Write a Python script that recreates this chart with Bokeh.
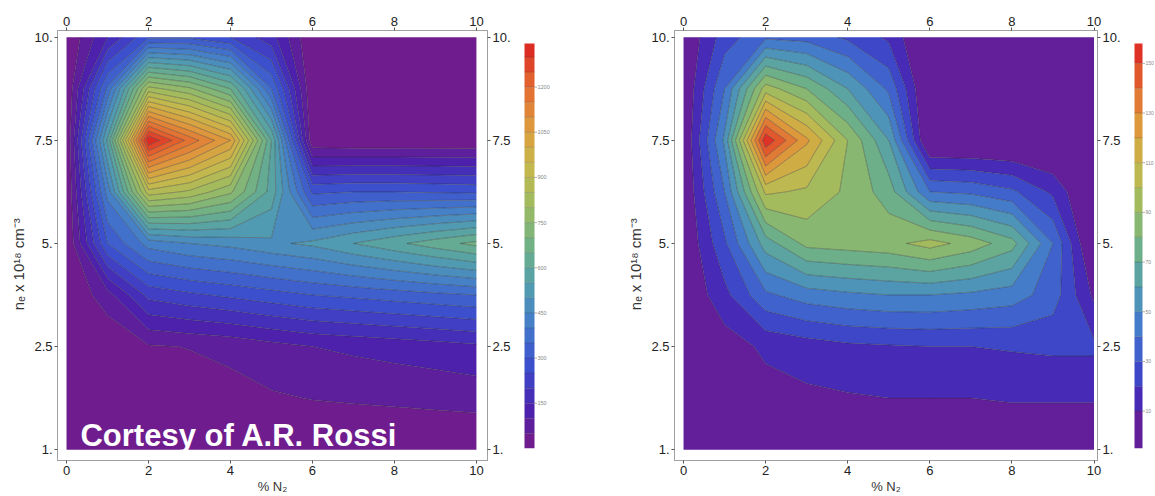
import numpy as np
from bokeh.plotting import figure
from bokeh.layouts import row
from bokeh.models import Range1d, LinearAxis, FixedTicker, Label
from bokeh.core.properties import value
from bokeh.embed import file_html
from bokeh.resources import INLINE

# ---------------- data ----------------
n2_percent = [0, 1, 2, 3, 4, 5, 6, 7, 8, 9, 10]
# vertical axis: evenly spaced rows labelled by electron density
ne_tick_pos = [0, 1, 2, 3, 4]
ne_tick_labels = ["1.", "2.5", "5.", "7.5", "10."]
grid_rows = [0, 0.5, 1, 1.5, 2, 2.5, 3, 3.5, 4]
n2_ticks = [0, 2, 4, 6, 8, 10]

# left map: one list per grid row (bottom -> top)
left_y0 = [0, 0, 0, 0, 0, 0, 0, 0, 0, 0, 0]
left_y0_5 = [0, 0, 10, 22, 33, 44, 52, 56, 60, 65, 70]
left_y1 = [0, 5, 45, 52, 62, 83, 100, 110, 119, 128, 140]
left_y1_5 = [0, 80, 215, 240, 260, 280, 300, 312, 325, 338, 350]
left_y2 = [0, 300, 420, 450, 465, 490, 511, 550, 588, 627, 665]
left_y2_5 = [0, 420, 880, 840, 760, 580, 290, 300, 300, 295, 290]
left_y3 = [0, 560, 1345, 1180, 1050, 600, 10, 5, 5, 5, 5]
left_y3_5 = [0, 360, 820, 760, 650, 350, 0, 0, 0, 0, 0]
left_y4 = [0, 150, 290, 290, 250, 170, 0, 0, 0, 0, 0]
left_step = 50
left_bar_labels = [150, 300, 450, 600, 750, 900, 1050, 1200]

# right map
right_y0 = [0, 0, 0, 0, 0, 0, 0, 0, 0, 0, 0]
right_y0_5 = [0, 2, 6, 8, 9, 10, 10, 10, 11, 11, 11]
right_y1 = [0, 5, 12, 15, 18, 19, 20, 20, 21, 22, 22]
right_y1_5 = [0, 17, 38, 45, 48, 50, 50, 48, 45, 35, 8]
right_y2 = [0, 28, 65, 83, 85, 87, 94, 86, 74, 40, -5]
right_y2_5 = [0, 40, 102, 98, 88, 75, 40, 38, 32, 18, -5]
right_y3 = [0, 52, 158, 122, 90, 60, -5, -5, -5, -5, -5]
right_y3_5 = [0, 40, 95, 80, 60, 38, -5, -5, -5, -5, -5]
right_y4 = [0, 25, 38, 36, 28, 18, -5, -5, -5, -5, -5]
right_step = 10
right_bar_labels = [10, 30, 50, 70, 90, 110, 130, 150]

FONT = "Liberation Sans"
Y_LABEL = "n\u2091 x 10\u00b9\u2078 cm\u207b\u00b3" + "\u2002" * 5

ANCH = [
    (0.0, (120, 28, 134)),
    (0.1, (74, 33, 175)),
    (0.2, (60, 78, 205)),
    (0.3, (68, 122, 203)),
    (0.4, (82, 158, 175)),
    (0.5, (112, 177, 132)),
    (0.6, (158, 188, 96)),
    (0.7, (200, 184, 74)),
    (0.8, (222, 151, 60)),
    (0.9, (227, 102, 47)),
    (1.0, (219, 33, 34)),
]


def rainbow(t):
    t = min(max(t, 0.0), 1.0)
    for (t0, c0), (t1, c1) in zip(ANCH[:-1], ANCH[1:]):
        if t <= t1:
            f = (t - t0) / (t1 - t0)
            return "#%02x%02x%02x" % tuple(int(round(a + (b - a) * f)) for a, b in zip(c0, c1))
    return "#%02x%02x%02x" % ANCH[-1][1]


def contour_levels(z, step):
    zmin, zmax = float(z.min()), float(z.max())
    inner = [v for v in np.arange(step, zmax, step) if v > zmin]
    return [zmin] + inner + [zmax]


def style_axis(ax, ticks, overrides=None):
    ax.ticker = FixedTicker(ticks=ticks)
    if overrides:
        ax.major_label_overrides = overrides
    ax.minor_tick_line_color = None
    ax.major_tick_in = 0
    ax.major_tick_out = 3
    ax.major_tick_line_color = "#555555"
    ax.axis_line_color = "#a0a0a0"
    ax.major_label_text_font = FONT
    ax.major_label_text_font_size = "13px"
    ax.major_label_text_color = "#222222"
    ax.major_label_standoff = 2
    ax.axis_label_text_font = FONT
    ax.axis_label_text_font_size = "13px"
    ax.axis_label_text_font_style = "normal"
    ax.axis_label_text_color = "#333333"
    ax.axis_label_standoff = 1


def make_panel(rows, step, x_pad_right, frame_w, border_left, border_right, note=None):
    z = np.array(rows, dtype=float)
    lv = contour_levels(z, step)
    zmin, zmax = lv[0], lv[-1]
    eps = (zmax - zmin) * 1e-6
    lv_draw = [zmin - eps] + lv[1:-1] + [zmax + eps]
    fills = [rainbow(((lv[i] + lv[i + 1]) / 2 - zmin) / (zmax - zmin)) for i in range(len(lv) - 1)]
    p = figure(frame_width=frame_w, frame_height=430,
               x_range=Range1d(-0.22, 10 + x_pad_right), y_range=Range1d(-0.105, 4.065),
               min_border_left=border_left, min_border_right=border_right,
               min_border_top=30, min_border_bottom=36,
               output_backend="svg", toolbar_location=None,
               background_fill_color="white", border_fill_color="white",
               outline_line_color="#a0a0a0")
    p.grid.visible = False
    line_alpha = [0.0] + [0.65] * (len(lv) - 2) + [0.0]
    p.contour(x=n2_percent, y=grid_rows, z=z, levels=lv_draw, fill_color=fills,
              line_color="#262626", line_alpha=line_alpha, line_width=0.6)
    ov = {i: lab for i, lab in zip(ne_tick_pos, ne_tick_labels)}
    style_axis(p.xaxis[0], n2_ticks)
    p.xaxis[0].axis_label = "% N\u2082"
    style_axis(p.yaxis[0], ne_tick_pos, ov)
    p.yaxis[0].axis_label = Y_LABEL
    p.yaxis[0].axis_label_text_font_size = "15px"
    p.yaxis[0].axis_label_standoff = 4
    top = LinearAxis()
    style_axis(top, n2_ticks)
    p.add_layout(top, "above")
    right = LinearAxis()
    style_axis(right, ne_tick_pos, ov)
    p.add_layout(right, "right")
    if note:
        p.add_layout(Label(x=0.34, y=0.14, text=note, text_font=FONT, text_font_size="31px",
                           text_font_style="bold", text_color="white", text_baseline="alphabetic"))
    return p, lv, fills


def make_bar(lv, fills, labels, width, bx0, bx1, font_px):
    zmin, zmax = lv[0], lv[-1]
    per_px = (zmax - zmin) / (482 - 15)
    b = figure(width=width, height=496, x_range=Range1d(0, width),
               y_range=Range1d(zmin - 14 * per_px, zmax + 15 * per_px),
               min_border=0, x_axis_location=None, y_axis_location=None,
               output_backend="svg", toolbar_location=None,
               outline_line_color=None, background_fill_color="white", border_fill_color="white")
    b.grid.visible = False
    b.quad(left=bx0, right=bx1, bottom=lv[:-1], top=lv[1:], fill_color=fills, line_color=None)
    b.segment(x0=bx0, x1=bx1, y0=lv[1:-1], y1=lv[1:-1], line_color="#333333", line_alpha=0.4, line_width=0.6)
    b.segment(x0=bx1, x1=bx1 + 2.5, y0=labels, y1=labels, line_color="#999999", line_width=0.8)
    b.text(x=bx1 + 3, y=labels, text=[str(v) for v in labels], text_font=value(FONT),
           text_font_size=font_px, text_color="#888888", text_baseline="middle")
    return b


left_rows = [left_y0, left_y0_5, left_y1, left_y1_5, left_y2, left_y2_5, left_y3, left_y3_5, left_y4]
right_rows = [right_y0, right_y0_5, right_y1, right_y1_5, right_y2, right_y2_5, right_y3, right_y3_5, right_y4]

pA, lvA, fA = make_panel(left_rows, left_step, 0.27, 430, 57, 23, note="Cortesy of A.R. Rossi")
pB = make_bar(lvA, fA, left_bar_labels, 66, 11, 21, "5.5px")
pC, lvC, fC = make_panel(right_rows, right_step, 0.085, 423, 95, 30)
pD = make_bar(lvC, fC, right_bar_labels, 31, 7, 15, "5px")

layout = row(pA, pB, pC, pD, spacing=0)
open("out.html", "w").write(file_html(layout, INLINE))
